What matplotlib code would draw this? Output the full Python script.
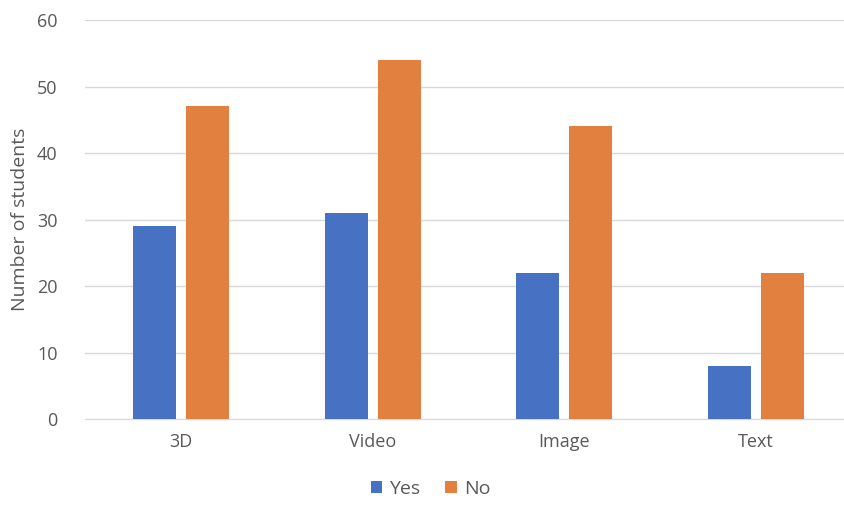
import numpy as np
import matplotlib.pyplot as plt

# Students per content type, split by answer
categories = ["3D", "Video", "Image", "Text"]
yes_counts = [29, 31, 22, 8]
no_counts = [47, 54, 44, 22]

plt.rcParams["font.family"] = ["Open Sans", "DejaVu Sans"]

BLUE = "#4772C3"
ORANGE = "#E2803F"
TEXT_GREY = "#595959"

fig = plt.figure(figsize=(8.44, 5.13), dpi=100)
# plot area runs slightly past the right edge of the canvas
ax = fig.add_axes([0.101, 0.183, 0.908, 0.778])

x = np.arange(len(categories))
width = 0.225
gap = 0.052
ax.bar(x - (width + gap) / 2, yes_counts, width, color=BLUE, label="Yes", zorder=3)
ax.bar(x + (width + gap) / 2, no_counts, width, color=ORANGE, label="No", zorder=3)

ax.set_xlim(-0.5, len(categories) - 0.5)
ax.set_ylim(0, 60)
ax.set_yticks(range(0, 61, 10))
ax.set_xticks(x)
ax.set_xticklabels(categories)
ax.tick_params(axis="both", length=0, labelsize=13, colors=TEXT_GREY)
ax.tick_params(axis="y", pad=20)
ax.tick_params(axis="x", pad=10)
ax.set_ylabel("Number of students", fontsize=14, color=TEXT_GREY, labelpad=6)

ax.grid(axis="y", color="#D9D9D9", linewidth=1, zorder=0)
for side in ["top", "right", "left"]:
    ax.spines[side].set_visible(False)
ax.spines["bottom"].set_color("#D9D9D9")

leg = fig.legend(
    loc="lower center",
    bbox_to_anchor=(0.51, -0.005),
    ncol=2,
    frameon=False,
    fontsize=14,
    handlelength=0.6,
    handleheight=0.6,
    handletextpad=0.35,
    columnspacing=1.3,
)
for t in leg.get_texts():
    t.set_color(TEXT_GREY)

fig.savefig("out.png", dpi=100)
